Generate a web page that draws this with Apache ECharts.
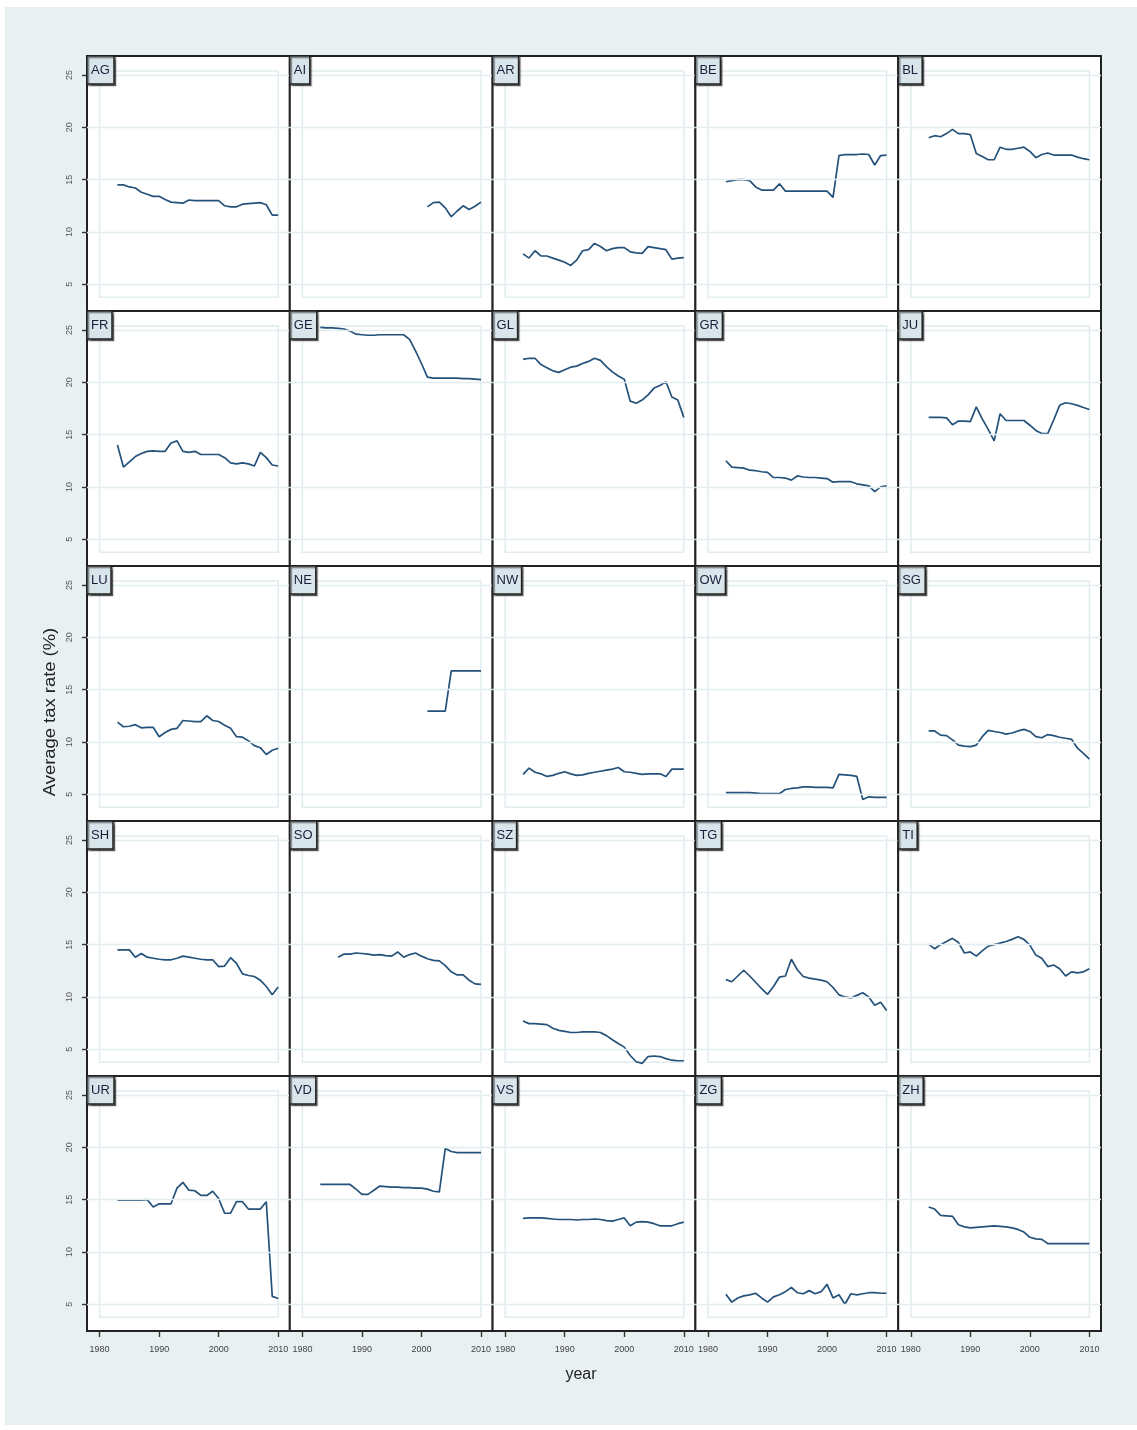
<!DOCTYPE html>
<html><head><meta charset="utf-8">
<script src="https://cdn.jsdelivr.net/npm/echarts@6/dist/echarts.min.js"></script>
<style>
html,body{margin:0;padding:0;background:#fff;}
#bg{position:absolute;left:5px;top:7px;width:1132px;height:1418px;background:#e8f0f2;}
#chart{position:absolute;left:0;top:0;width:1137px;height:1430px;}
</style></head><body><div id="bg"></div><div id="chart"></div>
<script>
// ---------------- DATA ----------------
const years = [1983,1984,1985,1986,1987,1988,1989,1990,1991,1992,1993,1994,1995,1996,1997,1998,1999,2000,2001,2002,2003,2004,2005,2006,2007,2008,2009,2010];
const yearsLate = [2001,2002,2003,2004,2005,2006,2007,2008,2009,2010];
const yearsSO = [1986,1987,1988,1989,1990,1991,1992,1993,1994,1995,1996,1997,1998,1999,2000,2001,2002,2003,2004,2005,2006,2007,2008,2009,2010];

const regionNames = ['AG','AI','AR','BE','BL','FR','GE','GL','GR','JU','LU','NE','NW','OW','SG','SH','SO','SZ','TG','TI','UR','VD','VS','ZG','ZH'];

const AG = [14.5,14.5,14.3,14.2,13.8,13.6,13.4,13.4, 13.1,12.85,12.8,12.75,13.05,13.0,13.0,13.0,13.0,13.0, 12.5,12.4,12.4,12.65,12.7,12.75,12.8,12.6,11.6,11.6];
const AI = [12.4,12.8,12.85,12.3,11.45,12.0,12.5,12.15,12.45,12.85];
const AR = [7.9,7.5,8.2,7.7,7.7,7.5,7.3,7.1, 6.8,7.3,8.2,8.3,8.9,8.6,8.2,8.4,8.5,8.5, 8.1,8.0,7.95,8.6,8.5,8.4,8.3,7.4,7.5,7.55];
const BE = [14.8,14.9,15.0,15.0,14.9,14.3,14.0,14.0, 14.0,14.6,13.9,13.9,13.9,13.9,13.9,13.9,13.9,13.9, 13.3,17.3,17.4,17.4,17.4,17.45,17.4,16.4,17.3,17.35];
const BL = [19.0,19.2,19.1,19.4,19.8,19.4,19.4,19.3, 17.5,17.2,16.9,16.9,18.1,17.9,17.9,18.0,18.1,17.7, 17.1,17.4,17.55,17.35,17.35,17.35,17.35,17.15,17.0,16.9];
const FR = [14.0,11.9,12.4,12.9,13.2,13.4,13.45,13.4, 13.4,14.2,14.4,13.4,13.3,13.4,13.1,13.1,13.1,13.1, 12.8,12.3,12.2,12.3,12.2,12.0,13.3,12.8,12.1,12.0];
const GE = [25.25,25.2,25.2,25.15,25.1,24.9,24.6,24.55, 24.5,24.5,24.55,24.55,24.55,24.55,24.55,24.1,23.0,21.8, 20.5,20.4,20.4,20.4,20.4,20.4,20.35,20.35,20.3,20.25];
const GL = [22.2,22.3,22.3,21.7,21.4,21.1,20.95,21.2, 21.45,21.55,21.8,22.0,22.3,22.1,21.5,21.0,20.6,20.3, 18.2,18.0,18.3,18.8,19.45,19.7,20.05,18.6,18.3,16.65];
const GR = [12.5,11.9,11.85,11.8,11.6,11.55,11.45,11.4, 10.9,10.9,10.85,10.65,11.05,10.95,10.9,10.9,10.85,10.8, 10.45,10.5,10.5,10.5,10.3,10.2,10.1,9.55,10.0,10.1];
const JU = [16.65,16.65,16.65,16.6,15.95,16.3,16.3,16.25, 17.65,16.5,15.5,14.4,17.0,16.35,16.35,16.35,16.35,15.9, 15.4,15.1,15.1,16.4,17.8,18.05,17.95,17.8,17.6,17.4];
const LU = [11.9,11.45,11.5,11.65,11.35,11.4,11.4,10.5, 10.9,11.2,11.3,12.05,12.0,11.95,11.95,12.5,12.05,11.95, 11.6,11.3,10.5,10.45,10.1,9.65,9.45,8.8,9.2,9.4];
const NE = [12.95,12.95,12.95,12.95,16.8,16.8,16.8,16.8,16.8,16.8];
const NW = [6.9,7.5,7.1,6.95,6.7,6.8,7.0,7.15, 6.95,6.8,6.85,7.0,7.1,7.2,7.3,7.4,7.55,7.15, 7.1,7.0,6.9,6.95,6.95,6.95,6.7,7.4,7.4,7.4];
const OW = [5.15,5.15,5.15,5.15,5.15,5.1,5.05,5.05, 5.05,5.05,5.45,5.55,5.6,5.7,5.7,5.65,5.65,5.65, 5.6,6.9,6.85,6.8,6.7,4.5,4.75,4.7,4.7,4.7];
const SG = [11.05,11.05,10.65,10.6,10.2,9.7,9.6,9.55, 9.7,10.5,11.1,11.0,10.9,10.75,10.85,11.05,11.2,11.0, 10.5,10.4,10.7,10.6,10.45,10.35,10.25,9.4,8.9,8.35];
const SH = [14.5,14.5,14.5,13.8,14.15,13.8,13.7,13.6, 13.55,13.55,13.7,13.9,13.8,13.7,13.6,13.55,13.55,12.9, 12.95,13.75,13.2,12.2,12.05,11.95,11.6,11.0,10.2,10.95];
const SO = [13.8,14.1,14.1,14.2,14.15, 14.1,14.0,14.05,13.95,13.9,14.3,13.8,14.05,14.2,13.9, 13.65,13.5,13.45,13.0,12.4,12.1,12.1,11.6,11.25,11.2];
const SZ = [7.7,7.45,7.45,7.4,7.35,7.0,6.8,6.7, 6.6,6.6,6.65,6.65,6.65,6.6,6.3,5.9,5.55,5.2, 4.4,3.8,3.65,4.3,4.35,4.3,4.1,3.95,3.9,3.9];
const TG = [11.65,11.45,12.0,12.55,12.0,11.4,10.8,10.25, 11.0,11.9,12.0,13.6,12.6,11.95,11.8,11.7,11.6,11.45, 10.9,10.2,10.0,9.9,10.15,10.4,10.0,9.2,9.5,8.7];
const TI = [15.05,14.6,15.0,15.3,15.6,15.2,14.2,14.3, 13.9,14.4,14.85,15.0,15.15,15.3,15.5,15.75,15.5,14.95, 14.0,13.7,12.9,13.05,12.7,12.0,12.4,12.3,12.4,12.7];
const UR = [14.95,14.95,14.95,14.95,14.95,15.0,14.3,14.6, 14.6,14.6,16.1,16.65,15.9,15.85,15.4,15.4,15.8,15.1, 13.7,13.7,14.8,14.8,14.1,14.1,14.1,14.8,5.75,5.55];
const VD = [16.45,16.45,16.45,16.45,16.45,16.45,16.0,15.5, 15.5,15.9,16.3,16.25,16.2,16.2,16.15,16.15,16.1,16.1, 16.0,15.8,15.75,19.9,19.6,19.5,19.5,19.5,19.5,19.5];
const VS = [13.2,13.25,13.25,13.25,13.2,13.15,13.1,13.1, 13.1,13.05,13.1,13.1,13.15,13.1,13.0,12.95,13.1,13.25, 12.5,12.85,12.9,12.85,12.7,12.5,12.5,12.5,12.7,12.85];
const ZG = [5.95,5.2,5.6,5.8,5.9,6.05,5.6,5.2, 5.7,5.9,6.2,6.6,6.1,6.0,6.3,6.0,6.2,6.9, 5.6,5.9,5.0,6.0,5.9,6.0,6.1,6.1,6.05,6.05];
const ZH = [14.3,14.1,13.5,13.45,13.4,12.6,12.4,12.3, 12.35,12.4,12.45,12.5,12.45,12.4,12.3,12.15,11.9,11.4, 11.25,11.2,10.8,10.8,10.8,10.8,10.8,10.8,10.8,10.8];

const regionValues = [AG,AI,AR,BE,BL,FR,GE,GL,GR,JU,LU,NE,NW,OW,SG,SH,SO,SZ,TG,TI,UR,VD,VS,ZG,ZH];
const regionYears = {AI: yearsLate, NE: yearsLate, SO: yearsSO};

const xTickValues = [1980, 1990, 2000, 2010];
const yTickValues = [5, 10, 15, 20, 25];
const yAxisTitle = 'Average tax rate (%)';
const xAxisTitle = 'year';

// ---------------- LAYOUT / STYLE ----------------
const NCOL = 5, NROW = 5;
const P_LEFT = 87, P_TOP = 56, P_W = 202.8, P_H = 255;
const X_MIN = 1977.88, X_MAX = 2011.95, Y_MIN = 2.44, Y_MAX = 26.82;
const PLOT_REGION = {x0: 1980, x1: 2010, y0: 3.76, y1: 25.38};
const LINE_COLOR = '#24527a';
const FONT = '"Liberation Sans", Arial, sans-serif';

const grids = [], xAxes = [], yAxes = [], series = [], titles = [];
regionNames.forEach((name, i) => {
  const c = i % NCOL, r = Math.floor(i / NCOL);
  const left = P_LEFT + c * P_W, top = P_TOP + r * P_H;
  grids.push({left: left, top: top, width: P_W, height: P_H, show: true,
    backgroundColor: '#ffffff', borderColor: '#222222', borderWidth: 2});
  xAxes.push({type: 'value', gridIndex: i, min: X_MIN, max: X_MAX,
    axisLine: {show: false}, splitLine: {show: false},
    axisTick: {show: r === NROW - 1, customValues: xTickValues, length: 6, inside: false,
      lineStyle: {color: '#333', width: 1.4}},
    axisLabel: {show: r === NROW - 1, customValues: xTickValues, fontSize: 9, color: '#444',
      margin: 14, fontFamily: FONT, formatter: v => String(v)}});
  yAxes.push({type: 'value', gridIndex: i, min: Y_MIN, max: Y_MAX,
    axisLine: {show: false}, splitLine: {show: false},
    axisTick: {show: c === 0, customValues: yTickValues, length: 5, inside: false,
      lineStyle: {color: '#333', width: 1.4}},
    axisLabel: {show: c === 0, customValues: yTickValues, fontSize: 9, color: '#555',
      rotate: 90, margin: 13, fontFamily: FONT, formatter: v => String(v)}});
  const yrs = regionYears[name] || years;
  const vals = regionValues[i];
  series.push({type: 'line', name: name, xAxisIndex: i, yAxisIndex: i,
    data: yrs.map((y, k) => [y, vals[k]]),
    showSymbol: false, symbol: 'none', clip: false,
    lineStyle: {color: LINE_COLOR, width: 1.7}, silent: true,
    markLine: {silent: true, symbol: ['none', 'none'], label: {show: false},
      lineStyle: {color: '#e3edf0', width: 1.3, type: 'solid'},
      data: yTickValues.map(v => ({yAxis: v}))},
    markArea: {silent: true, label: {show: false},
      itemStyle: {color: 'rgba(0,0,0,0)', borderColor: '#e2ecef', borderWidth: 1.5},
      data: [[{coord: [PLOT_REGION.x0, PLOT_REGION.y1]}, {coord: [PLOT_REGION.x1, PLOT_REGION.y0]}]]}
  });
  titles.push({text: name, left: left, top: top,
    backgroundColor: '#d8e5ea', borderColor: '#222222', borderWidth: 1.5,
    padding: [7, 4, 6, 4],
    shadowColor: 'rgba(0,0,0,0.45)', shadowOffsetX: 1.5, shadowOffsetY: 1.5, shadowBlur: 1,
    textStyle: {fontSize: 13, fontWeight: 'normal', color: '#1c1c3c', fontFamily: FONT, lineHeight: 15}});
});

const chart = echarts.init(document.getElementById('chart'), null, {renderer: 'canvas'});
chart.setOption({
  animation: false,
  backgroundColor: 'transparent',
  title: titles,
  grid: grids,
  xAxis: xAxes,
  yAxis: yAxes,
  series: series,
  graphic: [
    {type: 'text', x: 51, y: 712, rotation: Math.PI / 2, scaleX: 1.15,
      style: {text: yAxisTitle, fontSize: 16, fill: '#222', fontFamily: FONT,
        textAlign: 'center', textVerticalAlign: 'middle'}},
    {type: 'text', x: 581, y: 1375,
      style: {text: xAxisTitle, fontSize: 16, fill: '#222', fontFamily: FONT,
        textAlign: 'center', textVerticalAlign: 'middle'}}
  ]
});
</script></body></html>
